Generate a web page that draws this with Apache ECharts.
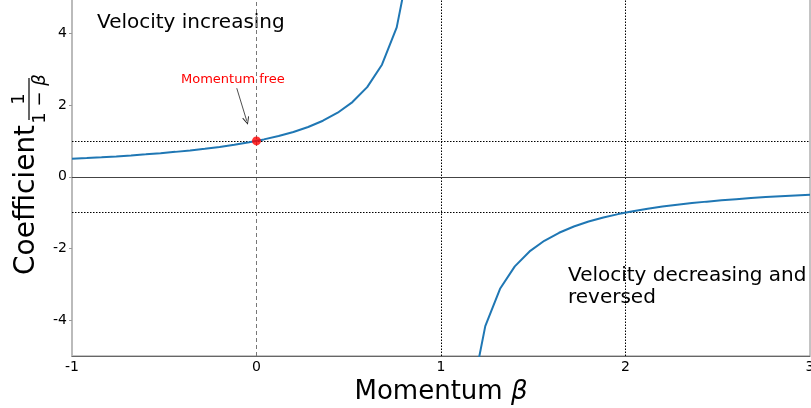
<!DOCTYPE html>
<html>
<head>
<meta charset="utf-8">
<script src="https://cdn.jsdelivr.net/npm/echarts@6/dist/echarts.min.js"></script>
<style>
  html, body { margin: 0; padding: 0; background: #fff; }
  #chart { width: 811px; height: 408px; }
</style>
</head>
<body>
<div id="chart"></div>
<script>
// momentum values sampled along the x axis
var betaValues = [-1, -0.92, -0.84, -0.76, -0.68, -0.6, -0.52, -0.44, -0.36, -0.28,
  -0.2, -0.12, -0.04, 0.04, 0.12, 0.2, 0.28, 0.36, 0.44, 0.52,
  0.6, 0.68, 0.76, 0.84, 0.92, 1, 1.08, 1.16, 1.24, 1.32,
  1.4, 1.48, 1.56, 1.64, 1.72, 1.8, 1.88, 1.96, 2.04, 2.12,
  2.2, 2.28, 2.36, 2.44, 2.52, 2.6, 2.68, 2.76, 2.84, 2.92, 3];
// coefficient (null = break at beta 1)
var coefValues = [0.5, 0.521, 0.543, 0.568, 0.595, 0.625, 0.658, 0.694, 0.735, 0.781,
  0.833, 0.893, 0.962, 1.042, 1.136, 1.25, 1.389, 1.563, 1.786, 2.083,
  2.5, 3.125, 4.167, 6.25, 12.5, null, -12.5, -6.25, -4.167, -3.125,
  -2.5, -2.083, -1.786, -1.563, -1.389, -1.25, -1.136, -1.042, -0.962, -0.893,
  -0.833, -0.781, -0.735, -0.694, -0.658, -0.625, -0.595, -0.568, -0.543, -0.521, -0.5];
var freePoint = [0, 1];
var arrowFrom = [-0.107, 2.47];
var arrowTo = [-0.053, 1.56];
var xTicks = [-1, 0, 1, 2, 3];
var yTicks = [-4, -2, 0, 2, 4];
var dottedY = [1, -1];
var dottedX = [1, 2];

var font = 'DejaVu Sans';
var curve = [];
for (var i = 0; i < betaValues.length; i++) {
  curve.push([betaValues[i], coefValues[i] === null ? '-' : coefValues[i]]);
}

var refLines = [];
dottedY.forEach(function (v) {
  refLines.push({ yAxis: v, lineStyle: { color: '#000', type: [1.5, 1.5], width: 1 } });
});
dottedX.forEach(function (v) {
  refLines.push({ xAxis: v, lineStyle: { color: '#000', type: [1.5, 1.5], width: 1 } });
});
refLines.push({ xAxis: 0, lineStyle: { color: '#777', type: [4, 3], width: 1 } });
refLines.push({ yAxis: 0, lineStyle: { color: '#444', type: 'solid', width: 1 } });

// open "->" arrow head
var openHead = 'path://M5,0 L10,10 L8.8,10.6 L5,2.6 L1.2,10.6 L0,10 Z';

var chart = echarts.init(document.getElementById('chart'), null, { renderer: 'canvas' });
var option = {
  animation: false,
  backgroundColor: '#fff',
  textStyle: { fontFamily: font },
  grid: {
    left: 72, right: 1, top: -2.5, bottom: 52,
    outerBoundsMode: 'none',
    containLabel: false,
    show: true, borderColor: '#888', borderWidth: 1
  },
  xAxis: {
    type: 'value', min: -1, max: 3, interval: 1,
    axisLine: { onZero: false, lineStyle: { color: '#666', width: 1 } },
    axisTick: { show: false },
    splitLine: { show: false },
    axisLabel: { color: '#000', fontSize: 14, fontFamily: font, margin: 4, customValues: xTicks },
    name: 'Momentum {i|β}',
    nameLocation: 'middle',
    nameGap: 19,
    nameTextStyle: {
      fontSize: 26, color: '#000', fontFamily: font,
      rich: { i: { fontSize: 26, fontStyle: 'italic', fontFamily: font, color: '#000' } }
    }
  },
  yAxis: {
    type: 'value', min: -5, max: 5,
    axisLine: { show: true, onZero: false, lineStyle: { color: '#bbb', width: 2 } },
    axisTick: { show: true, length: 3, lineStyle: { color: '#999' }, customValues: yTicks },
    splitLine: { show: false },
    axisLabel: { color: '#000', fontSize: 14, fontFamily: font, margin: 5, customValues: yTicks }
  },
  series: [
    {
      type: 'line',
      data: curve,
      showSymbol: false,
      connectNulls: false,
      clip: true,
      lineStyle: { color: '#1f77b4', width: 2 },
      z: 3,
      markLine: {
        silent: true,
        symbol: 'none',
        label: { show: false },
        data: refLines,
        z: 1
      }
    },
    {
      type: 'scatter',
      data: [freePoint],
      symbolSize: 9,
      itemStyle: { color: '#ff0000' },
      z: 5,
      markLine: {
        silent: true,
        symbol: ['none', openHead],
        symbolSize: [7, 8],
        label: { show: false },
        lineStyle: { color: '#222', width: 0.8, type: 'solid' },
        data: [[{ coord: arrowFrom }, { coord: arrowTo }]]
      }
    }
  ],
  graphic: [
    {
      type: 'text', x: 97, y: 23,
      style: { text: 'Velocity increasing', fontSize: 20, fontFamily: font, fill: '#000', textVerticalAlign: 'middle' }
    },
    {
      type: 'text', x: 568, y: 265,
      style: { text: 'Velocity decreasing and\nreversed', fontSize: 20, lineHeight: 22, fontFamily: font, fill: '#000', textVerticalAlign: 'top' }
    },
    {
      type: 'text', x: 181, y: 80,
      style: { text: 'Momentum free', fontSize: 13, fontFamily: font, fill: '#ff0000', textVerticalAlign: 'middle' }
    },
    {
      // y-axis title with the fraction, rotated (local top -> screen left)
      type: 'group', x: 13, y: 275, rotation: Math.PI / 2,
      children: [
        { type: 'text', x: 0, y: 0, style: { text: 'Coefficient', fontSize: 28, fontFamily: font, fill: '#000', textVerticalAlign: 'top' } },
        { type: 'text', x: 176, y: -3, style: { text: '1', fontSize: 18, fontFamily: font, fill: '#000', textAlign: 'center', textVerticalAlign: 'top' } },
        { type: 'line', shape: { x1: 155, y1: 16, x2: 197, y2: 16 }, style: { stroke: '#000', lineWidth: 1.2 } },
        { type: 'text', x: 176, y: 18, style: { text: '1 − {i|β}', fontSize: 18, fontFamily: font, fill: '#000', textAlign: 'center', textVerticalAlign: 'top',
          rich: { i: { fontSize: 18, fontStyle: 'italic', fontFamily: font } } } }
      ]
    }
  ]
};
chart.setOption(option);
</script>
</body>
</html>
